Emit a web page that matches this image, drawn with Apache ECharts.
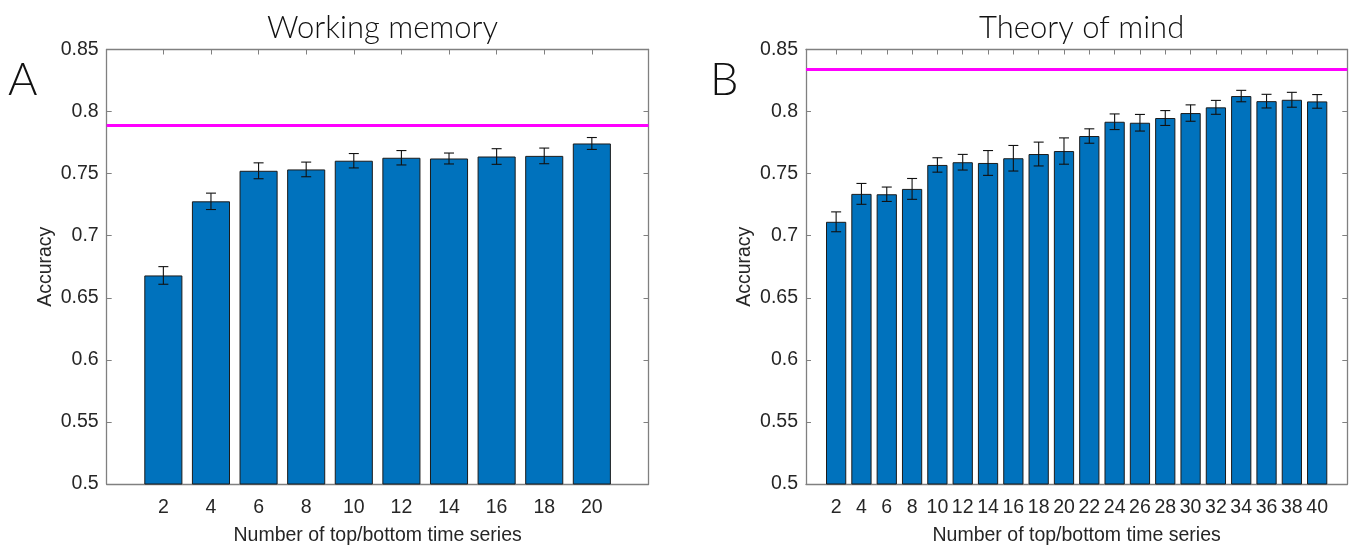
<!DOCTYPE html>
<html>
<head>
<meta charset="utf-8">
<script src="https://cdn.jsdelivr.net/npm/echarts@6/dist/echarts.min.js"></script>
<style>
  html, body { margin: 0; padding: 0; background: #fff; }
  #chart { width: 1355px; height: 551px; }
</style>
</head>
<body>
<div id="chart"></div>
<script>
// Working memory panel
const wmCounts = [2, 4, 6, 8, 10, 12, 14, 16, 18, 20];
const wmAccuracy = [0.668, 0.7277, 0.7523, 0.7534, 0.7604, 0.7628, 0.7622, 0.7638, 0.7643, 0.7743];
const wmError = [0.0071, 0.0066, 0.0064, 0.0059, 0.0058, 0.0058, 0.0044, 0.0063, 0.0063, 0.0048];
const wmReference = 0.789;

// Theory of mind panel
const tomCounts = [2, 4, 6, 8, 10, 12, 14, 16, 18, 20, 22, 24, 26, 28, 30, 32, 34, 36, 38, 40];
const tomAccuracy = [0.7112, 0.7337, 0.7334, 0.7377, 0.757, 0.7592, 0.7586, 0.7624, 0.7658, 0.7682,
                     0.7803, 0.7918, 0.791, 0.7948, 0.7988, 0.8034, 0.8125, 0.8084, 0.8095, 0.8082];
const tomError = [0.008, 0.0084, 0.0058, 0.0084, 0.0058, 0.0063, 0.010, 0.0103, 0.0096, 0.0106,
                  0.0058, 0.0063, 0.0067, 0.006, 0.0066, 0.0056, 0.0046, 0.0055, 0.006, 0.0055];
const tomReference = 0.834;

const yTicks = [0.5, 0.55, 0.6, 0.65, 0.7, 0.75, 0.8, 0.85];
const panelTitles = ['Working memory', 'Theory of mind'];
const panelLetters = ['A', 'B'];
const xAxisTitle = 'Number of top/bottom time series';
const yAxisTitle = 'Accuracy';

const TEXT = '#262626';
const AXIS = '#808080';
const BAR = '#0072BD';
const FONT = 'Liberation Sans, Arial, sans-serif';
const TITLE_FONT = 'Lato, sans-serif';

const grids = [
  { left: 106.7, top: 49.5, width: 541.8, height: 435 },
  { left: 806, top: 49.5, width: 541.3, height: 435 }
];

function xAxes(gridIndex, ticks) {
  const max = ticks[ticks.length - 1] + 2.38;
  const common = {
    type: 'value', gridIndex: gridIndex, min: -0.38, max: max,
    splitLine: { show: false },
    axisLine: { show: true, onZero: false, lineStyle: { color: AXIS, width: 1.3 } },
    axisTick: { show: true, inside: true, length: 5, customValues: ticks, lineStyle: { color: AXIS } }
  };
  return [
    Object.assign({}, common, {
      position: 'bottom',
      name: xAxisTitle, nameLocation: 'middle', nameGap: 42,
      nameTextStyle: { fontFamily: FONT, fontSize: 19.5, color: TEXT },
      axisLabel: { show: true, customValues: ticks, margin: 14, fontFamily: FONT, fontSize: 19.5, color: TEXT }
    }),
    Object.assign({}, common, { position: 'top', axisLabel: { show: false } })
  ];
}

function yAxes(gridIndex) {
  const common = {
    type: 'value', gridIndex: gridIndex, min: 0.5, max: 0.85, interval: 0.05,
    splitLine: { show: false },
    axisLine: { show: true, onZero: false, lineStyle: { color: AXIS, width: 1.3 } },
    axisTick: { show: true, inside: true, length: 5, customValues: yTicks, lineStyle: { color: AXIS } }
  };
  return [
    Object.assign({}, common, {
      position: 'left',
      name: yAxisTitle, nameLocation: 'middle', nameGap: 51,
      nameTextStyle: { fontFamily: FONT, fontSize: 19.5, color: TEXT },
      axisLabel: { show: true, customValues: yTicks, margin: 8, fontFamily: FONT, fontSize: 19.5, color: TEXT,
                   formatter: v => String(+v.toFixed(2)) }
    }),
    Object.assign({}, common, { position: 'right', axisLabel: { show: false } })
  ];
}

function barSeries(axisIndex, xs, ys, ref) {
  return {
    type: 'bar', xAxisIndex: axisIndex, yAxisIndex: axisIndex,
    data: xs.map((x, i) => [x, ys[i]]),
    barWidth: '80%', clip: true,
    itemStyle: { color: BAR, borderColor: '#1b1b1b', borderWidth: 1 },
    silent: true,
    markLine: {
      silent: true, symbol: 'none', precision: 4, label: { show: false },
      lineStyle: { color: '#ff00ff', width: 3, type: 'solid' },
      data: [{ yAxis: ref }]
    },
    z: 2
  };
}

function errorSeries(axisIndex, xs, ys, errs) {
  return {
    type: 'custom', xAxisIndex: axisIndex, yAxisIndex: axisIndex,
    data: xs.map((x, i) => [x, ys[i] - errs[i], ys[i] + errs[i]]),
    encode: { x: 0, y: [1, 2] },
    silent: true, z: 5,
    renderItem: function (params, api) {
      const x = api.value(0);
      const lo = api.coord([x, api.value(1)]);
      const hi = api.coord([x, api.value(2)]);
      const cap = 5;
      const style = { stroke: '#111', lineWidth: 1.1 };
      return {
        type: 'group',
        children: [
          { type: 'line', shape: { x1: lo[0], y1: lo[1], x2: hi[0], y2: hi[1] }, style: style },
          { type: 'line', shape: { x1: lo[0] - cap, y1: lo[1], x2: lo[0] + cap, y2: lo[1] }, style: style },
          { type: 'line', shape: { x1: hi[0] - cap, y1: hi[1], x2: hi[0] + cap, y2: hi[1] }, style: style }
        ]
      };
    }
  };
}

const chart = echarts.init(document.getElementById('chart'), null, { renderer: 'canvas' });

const option = {
  animation: false,
  backgroundColor: '#ffffff',
  title: panelTitles.map((t, i) => ({
    text: t,
    left: grids[i].left + grids[i].width / 2,
    top: 7,
    textAlign: 'center',
    textStyle: { fontFamily: TITLE_FONT, fontWeight: 300, fontSize: 31, color: '#111' }
  })),
  graphic: panelLetters.map((l, i) => ({
    type: 'text',
    left: i === 0 ? 8 : 710,
    top: 58,
    style: { text: l, fontFamily: TITLE_FONT, fontWeight: 300, fontSize: 45, fill: '#111' }
  })),
  grid: grids,
  xAxis: xAxes(0, wmCounts).concat(xAxes(1, tomCounts)).map((a, i) => Object.assign(a, { gridIndex: i < 2 ? 0 : 1 })),
  yAxis: yAxes(0).concat(yAxes(1)).map((a, i) => Object.assign(a, { gridIndex: i < 2 ? 0 : 1 })),
  series: [
    barSeries(0, wmCounts, wmAccuracy, wmReference),
    errorSeries(0, wmCounts, wmAccuracy, wmError),
    barSeries(2, tomCounts, tomAccuracy, tomReference),
    errorSeries(2, tomCounts, tomAccuracy, tomError)
  ]
};

chart.setOption(option);
</script>
</body>
</html>
